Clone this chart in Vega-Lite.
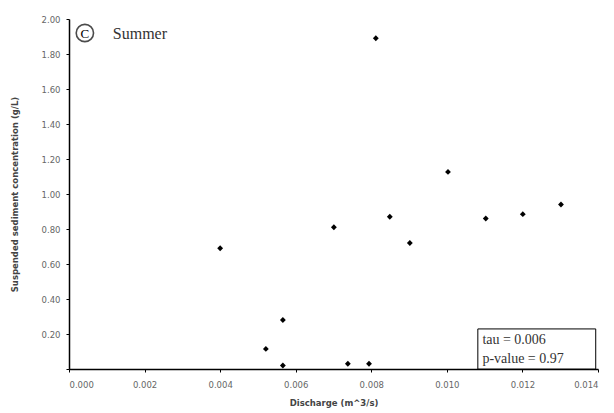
{
  "$schema": "https://vega.github.io/schema/vega-lite/v6.json",
  "autosize": "none",
  "width": 529,
  "height": 350,
  "padding": {"left": 69, "top": 19, "right": 16, "bottom": 44},
  "background": "white",
  "config": {"view": {"stroke": null}},
  "resolve": {"axis": {"x": "independent", "y": "independent"}},
  "datasets": {
    "points": [
      {"discharge": 0.00812, "ssc": 1.89},
      {"discharge": 0.01003, "ssc": 1.126},
      {"discharge": 0.0040, "ssc": 0.69},
      {"discharge": 0.00566, "ssc": 0.28},
      {"discharge": 0.00521, "ssc": 0.115},
      {"discharge": 0.00566, "ssc": 0.02},
      {"discharge": 0.00701, "ssc": 0.81},
      {"discharge": 0.00849, "ssc": 0.87},
      {"discharge": 0.00902, "ssc": 0.72},
      {"discharge": 0.01103, "ssc": 0.86},
      {"discharge": 0.01201, "ssc": 0.885},
      {"discharge": 0.01302, "ssc": 0.94},
      {"discharge": 0.00738, "ssc": 0.03},
      {"discharge": 0.00794, "ssc": 0.03}
    ]
  },
  "layer": [
    {
      "data": {"name": "points"},
      "mark": {"type": "point", "shape": "diamond", "filled": true, "color": "black", "size": 34, "opacity": 1},
      "encoding": {
        "x": {
          "field": "discharge", "type": "quantitative",
          "scale": {"domain": [0, 0.014], "nice": false, "zero": true},
          "axis": {
            "title": "Discharge (m^3/s)", "values": [0, 0.002, 0.004, 0.006, 0.008, 0.01, 0.012, 0.014],
            "format": ".3f", "grid": false, "domainColor": "black", "domainWidth": 1.5,
            "tickColor": "black", "tickSize": 3, "labelFontSize": 8.5, "labelColor": "#666",
            "labelFont": "DejaVu Sans", "labelPadding": 8, "labelOverlap": false, "titleFont": "DejaVu Sans",
            "titleFontSize": 8.5, "titleFontWeight": "bold", "titleColor": "#444", "titlePadding": 10
          }
        },
        "y": {
          "field": "ssc", "type": "quantitative",
          "scale": {"domain": [0, 2], "nice": false},
          "axis": {
            "title": "Suspended sediment concentration (g/L)",
            "values": [0, 0.2, 0.4, 0.6, 0.8, 1.0, 1.2, 1.4, 1.6, 1.8, 2.0],
            "labelExpr": "datum.value == 0 ? '' : format(datum.value, '.2f')",
            "grid": false, "domainColor": "black", "domainWidth": 1.5, "labelOverlap": false,
            "tickColor": "black", "tickSize": 3, "labelFontSize": 8.5, "labelColor": "#666",
            "labelFont": "DejaVu Sans", "labelPadding": 6, "titleFont": "DejaVu Sans",
            "titleFontSize": 8.5, "titleFontWeight": "bold", "titleColor": "#444", "titlePadding": 22
          }
        }
      }
    },
    {
      "data": {"values": [{}]},
      "mark": {"type": "rect", "fill": "white", "stroke": "black", "strokeWidth": 1},
      "encoding": {
        "x": {"datum": 0.01082, "type": "quantitative", "axis": null},
        "x2": {"datum": 0.01394},
        "y": {"datum": 0, "type": "quantitative", "axis": null},
        "y2": {"datum": 0.229}
      }
    },
    {
      "data": {"values": [{"label": "tau = 0.006"}]},
      "mark": {"type": "text", "font": "Liberation Serif", "fontSize": 14, "color": "#333", "align": "left", "baseline": "middle"},
      "encoding": {
        "x": {"datum": 0.01094, "type": "quantitative", "axis": null},
        "y": {"datum": 0.166, "type": "quantitative", "axis": null},
        "text": {"field": "label"}
      }
    },
    {
      "data": {"values": [{"label": "p-value = 0.97"}]},
      "mark": {"type": "text", "font": "Liberation Serif", "fontSize": 14, "color": "#333", "align": "left", "baseline": "middle"},
      "encoding": {
        "x": {"datum": 0.01094, "type": "quantitative", "axis": null},
        "y": {"datum": 0.057, "type": "quantitative", "axis": null},
        "text": {"field": "label"}
      }
    },
    {
      "data": {"values": [{}]},
      "mark": {"type": "point", "shape": "circle", "filled": false, "stroke": "black", "strokeWidth": 1.6, "size": 300},
      "encoding": {
        "x": {"datum": 0.00042, "type": "quantitative", "axis": null},
        "y": {"datum": 1.92, "type": "quantitative", "axis": null}
      }
    },
    {
      "data": {"values": [{"label": "C"}]},
      "mark": {"type": "text", "font": "Liberation Serif", "fontSize": 13, "color": "black", "align": "center", "baseline": "middle", "dy": 1},
      "encoding": {
        "x": {"datum": 0.00042, "type": "quantitative", "axis": null},
        "y": {"datum": 1.92, "type": "quantitative", "axis": null},
        "text": {"field": "label"}
      }
    },
    {
      "data": {"values": [{"label": "Summer"}]},
      "mark": {"type": "text", "font": "Liberation Serif", "fontSize": 16, "color": "#333", "align": "left", "baseline": "middle", "dy": 1},
      "encoding": {
        "x": {"datum": 0.00116, "type": "quantitative", "axis": null},
        "y": {"datum": 1.92, "type": "quantitative", "axis": null},
        "text": {"field": "label"}
      }
    }
  ]
}
